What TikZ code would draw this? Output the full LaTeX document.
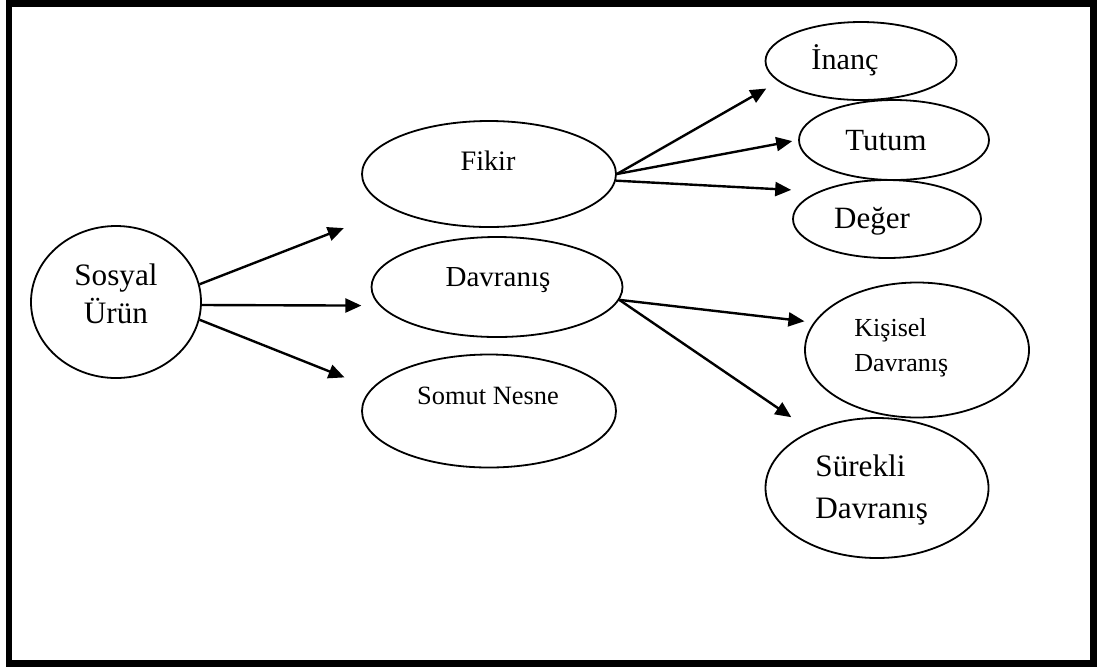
\documentclass[tikz,border=0pt]{standalone}
\usepackage{fontspec}
\setmainfont{Liberation Serif}
\usetikzlibrary{arrows.meta, shapes.geometric}

\begin{document}
\begin{tikzpicture}[
        x=0.5pt, y=-0.5pt,
        oval/.style={ellipse, draw, line width=0.9pt, inner sep=0pt},
        arrow/.style={-{Triangle[length=8pt, width=7pt]}, line width=1.2pt},
        txt/.style={inner sep=0pt, font=\rmfamily\fontsize{14}{17}\selectfont}
    ]
        \useasboundingbox (0,0) rectangle (1097,666);
        \draw[line width=3.2pt] (9,3.5) rectangle (1093.5,663.5);

        % ellipses
        \node[oval, minimum width=85pt, minimum height=76pt] (sosyal) at (116,302) {};
        \node[oval, minimum width=127pt, minimum height=53pt] (fikir) at (489,174) {};
        \node[oval, minimum width=125.5pt, minimum height=50pt] (davranis) at (497,287) {};
        \node[oval, minimum width=127pt, minimum height=56.5pt] (somut) at (489,411) {};
        \node[oval, minimum width=95.5pt, minimum height=39pt] (inanc) at (861,61) {};
        \node[oval, minimum width=95pt, minimum height=40pt] (tutum) at (894,140) {};
        \node[oval, minimum width=94pt, minimum height=39pt] (deger) at (887,219) {};
        \node[oval, minimum width=112pt, minimum height=67.5pt] (kisisel) at (917,350) {};
        \node[oval, minimum width=111.5pt, minimum height=70pt] (surekli) at (877,488) {};

        % texts (base = last line)
        \node[txt, align=center, font=\rmfamily\fontsize{15.6}{19}\selectfont, anchor=base] (sosyaltxt) at (116,323) {Sosyal\\Ürün};
        \node[txt, font=\rmfamily\fontsize{14.1}{17}\selectfont, anchor=base] (fikirtxt) at (488,170) {Fikir};
        \node[txt, font=\rmfamily\fontsize{14.5}{17}\selectfont, anchor=base] (davranistxt) at (498,286) {Davranış};
        \node[txt, font=\rmfamily\fontsize{13.2}{16}\selectfont, anchor=base] (somuttxt) at (488,404) {Somut Nesne};
        \node[txt, font=\rmfamily\fontsize{15.1}{18}\selectfont, anchor=base] (inanctxt) at (845,69) {İnanç};
        \node[txt, font=\rmfamily\fontsize{15.4}{18}\selectfont, anchor=base] (tutumtxt) at (886,150) {Tutum};
        \node[txt, font=\rmfamily\fontsize{15.5}{18}\selectfont, anchor=base] (degertxt) at (872,228) {Değer};
        \node[txt, align=left, font=\rmfamily\fontsize{13}{17.3}\selectfont, anchor=base west] (kisiseltxt) at (854,371) {Kişisel\\Davranış};
        \node[txt, align=left, font=\rmfamily\fontsize{15.6}{20.8}\selectfont, anchor=base west] (surekiltxt) at (815,518) {Sürekli\\Davranış};

        % connectors
        \draw[arrow, shorten >=26pt] (sosyal.12) -- (fikir.200);
        \draw[arrow, shorten >=9pt] (sosyal.358) -- (davranis.189);
        \draw[arrow, shorten >=14.6pt] (sosyal.348) -- (somut.169);
        \draw[arrow, shorten >=7pt] (fikir.0) -- (inanc.194);
        \draw[arrow, shorten >=3pt] (fikir.0) -- (tutum.180);
        \draw[arrow, shorten >=13.7pt] (fikir.357) -- (deger.158);
        \draw[arrow, shorten >=4.7pt] (davranis.354) -- (kisisel.165);
        \draw[arrow, shorten >=11.9pt] (davranis.354) -- (surekli.139);
    \end{tikzpicture}
\end{document}
